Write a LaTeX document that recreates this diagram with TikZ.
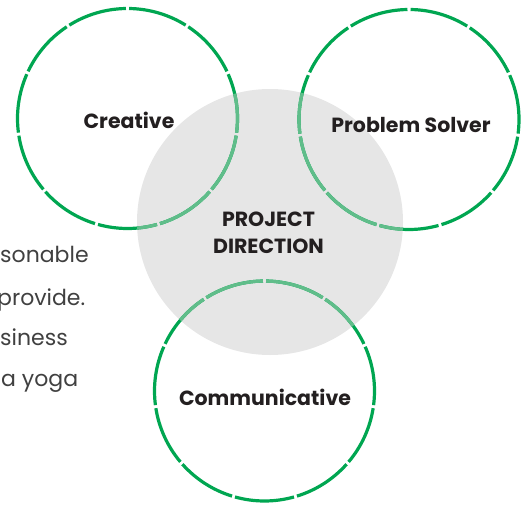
\documentclass[tikz,border=0pt]{standalone}
\usepackage{fontspec}
\setmainfont{Poppins}
\usetikzlibrary{calc}
\definecolor{ringgreen}{HTML}{00A651}
\definecolor{ringlight}{HTML}{60BD8A}
\definecolor{hubgray}{HTML}{E6E6E6}
\definecolor{labelink}{HTML}{231F20}
\definecolor{bodyink}{HTML}{404040}
\tikzset{
  label/.style={font=\bfseries\fontsize{20.5}{24}\selectfont, text=labelink, inner sep=0pt, anchor=base},
  bodytext/.style={font=\fontsize{22}{26}\selectfont, text=bodyink, inner sep=0pt, anchor=base west},
  ringline/.style={line width=3.2pt, line cap=butt},
}
\newcommand{\ringarcs}[2]{% center, radius
  \foreach \k in {0,...,10}{
    \draw[ringline] ($(#1)+({90+\k*32.7273+0.8}:#2)$) arc[start angle={90+\k*32.7273+0.8}, end angle={90+(\k+1)*32.7273-0.8}, radius=#2];
  }
}
\begin{document}
\begin{tikzpicture}[x=1pt,y=1pt]
\useasboundingbox (0,0) rectangle (529,-505);
% hub
\coordinate (hubc) at (270,-222);
\fill[hubgray] (hubc) circle[radius=133];
% ring centres
\coordinate (cre) at (127.5,-118.5);
\coordinate (pro) at (409,-119.5);
\coordinate (com) at (264.5,-391);
% rings
\begin{scope}[ringgreen]
  \ringarcs{cre}{110}
  \ringarcs{pro}{110}
  \ringarcs{com}{110}
\end{scope}
\begin{scope}
  \clip (hubc) circle[radius=133];
  \begin{scope}[ringlight]
    \ringarcs{cre}{110}
    \ringarcs{pro}{110}
    \ringarcs{com}{110}
  \end{scope}
\end{scope}
% labels
\node[label] (lcre) at (129,-129) {Creative};
\node[label] (lpro) at (411,-132) {Problem Solver};
\node[label] (lhub1) at (268.5,-226) {PROJECT};
\node[label] (lhub2) at (268.5,-253) {DIRECTION};
\node[label] (lcom) at (265,-405) {Communicative};
% clipped body text at the left
\node[bodytext] (t1) at (0,-262) {sonable};
\node[bodytext] (t2) at (-3,-305) {provide.};
\node[bodytext] (t3) at (0,-345) {siness};
\node[bodytext] (t4) at (1,-386) {a yoga};
\end{tikzpicture}
\end{document}
